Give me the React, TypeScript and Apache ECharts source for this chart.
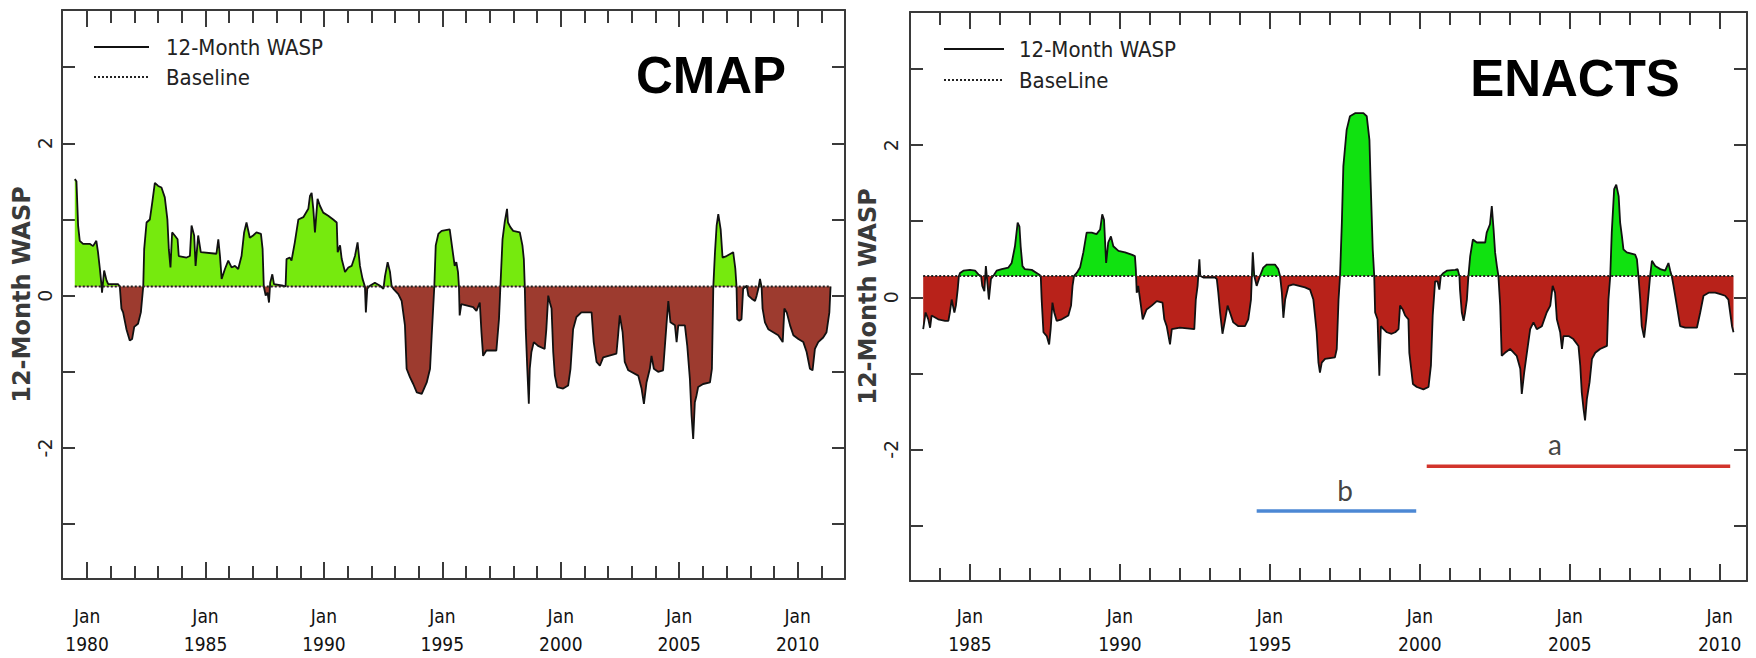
import React, { useEffect, useRef } from "react";
import * as echarts from "echarts";

// ---------------- DATA ----------------
const cmapBaseline = 0.12;
const enactsBaseline = 0.28;

const cmapSeries: [number, number][] = [
  [1979.48, 1.53], [1979.55, 1.5], [1979.62, 0.92], [1979.69, 0.72], [1979.83, 0.68], [1980.11, 0.68],
  [1980.25, 0.65], [1980.39, 0.72], [1980.46, 0.57], [1980.54, 0.35], [1980.61, 0.13], [1980.63, 0.04],
  [1980.72, 0.33], [1980.82, 0.2], [1980.89, 0.15], [1981.31, 0.15], [1981.38, 0.12], [1981.45, -0.17],
  [1981.52, -0.22], [1981.66, -0.44], [1981.8, -0.59], [1981.9, -0.57], [1981.99, -0.41], [1982.15, -0.37],
  [1982.27, -0.22], [1982.37, 0.12], [1982.41, 0.61], [1982.51, 0.96], [1982.65, 1.0], [1982.75, 1.22],
  [1982.86, 1.48], [1983.0, 1.44], [1983.14, 1.42], [1983.28, 1.29], [1983.39, 1.0], [1983.45, 0.61],
  [1983.52, 0.37], [1983.59, 0.83], [1983.7, 0.79], [1983.82, 0.74], [1983.87, 0.52], [1984.2, 0.5],
  [1984.34, 0.52], [1984.41, 0.92], [1984.52, 0.79], [1984.58, 0.39], [1984.69, 0.79], [1984.8, 0.57],
  [1985.46, 0.55], [1985.54, 0.74], [1985.61, 0.52], [1985.68, 0.22], [1985.82, 0.35], [1985.96, 0.46],
  [1986.1, 0.37], [1986.24, 0.39], [1986.38, 0.35], [1986.52, 0.52], [1986.63, 0.83], [1986.73, 0.96],
  [1986.87, 0.76], [1987.01, 0.79], [1987.15, 0.83], [1987.34, 0.81], [1987.41, 0.61], [1987.46, 0.12],
  [1987.54, 0.0], [1987.62, 0.04], [1987.68, -0.09], [1987.73, 0.17], [1987.82, 0.28], [1987.89, 0.15],
  [1988.28, 0.13], [1988.38, 0.12], [1988.42, 0.48], [1988.56, 0.5], [1988.63, 0.46], [1988.77, 0.7],
  [1988.92, 1.0], [1989.13, 1.03], [1989.34, 1.14], [1989.41, 1.31], [1989.48, 1.35], [1989.55, 1.14],
  [1989.62, 0.83], [1989.73, 1.27], [1989.83, 1.18], [1989.97, 1.09], [1990.18, 1.05], [1990.39, 1.0],
  [1990.54, 0.96], [1990.58, 0.57], [1990.68, 0.66], [1990.75, 0.48], [1990.89, 0.31], [1991.03, 0.37],
  [1991.17, 0.39], [1991.31, 0.52], [1991.42, 0.7], [1991.52, 0.39], [1991.63, 0.22], [1991.73, 0.12],
  [1991.77, -0.22], [1991.83, 0.09], [1991.94, 0.13], [1992.15, 0.17], [1992.37, 0.13], [1992.51, 0.09],
  [1992.58, 0.26], [1992.69, 0.44], [1992.79, 0.31], [1992.86, 0.12], [1992.93, 0.09], [1993.14, 0.02],
  [1993.28, -0.07], [1993.42, -0.39], [1993.49, -0.96], [1993.63, -1.07], [1993.77, -1.16], [1993.92, -1.27],
  [1994.13, -1.29], [1994.34, -1.14], [1994.48, -0.96], [1994.55, -0.52], [1994.66, 0.12], [1994.72, 0.66],
  [1994.83, 0.81], [1994.97, 0.85], [1995.31, 0.87], [1995.52, 0.39], [1995.59, 0.44], [1995.66, 0.31],
  [1995.7, 0.12], [1995.73, -0.26], [1995.8, -0.11], [1996.3, -0.15], [1996.44, -0.2], [1996.58, -0.09],
  [1996.65, -0.48], [1996.72, -0.79], [1996.86, -0.72], [1997.28, -0.72], [1997.39, -0.31], [1997.45, 0.12],
  [1997.54, 0.74], [1997.63, 0.96], [1997.73, 1.14], [1997.77, 0.96], [1997.87, 0.9], [1997.99, 0.85],
  [1998.27, 0.83], [1998.38, 0.66], [1998.44, 0.48], [1998.48, 0.12], [1998.52, -0.44], [1998.58, -0.92],
  [1998.65, -1.42], [1998.69, -0.96], [1998.76, -0.74], [1998.86, -0.61], [1999.04, -0.66], [1999.32, -0.7],
  [1999.39, -0.44], [1999.47, 0.0], [1999.54, -0.09], [1999.61, -0.17], [1999.68, -0.74], [1999.75, -1.05],
  [1999.85, -1.2], [2000.1, -1.22], [2000.31, -1.18], [2000.41, -0.96], [2000.52, -0.44], [2000.66, -0.28],
  [2000.87, -0.22], [2001.3, -0.22], [2001.39, -0.61], [2001.51, -0.87], [2001.65, -0.92], [2001.79, -0.81],
  [2002.35, -0.76], [2002.42, -0.52], [2002.49, -0.26], [2002.61, -0.48], [2002.7, -0.87], [2002.85, -0.98],
  [2003.27, -1.05], [2003.41, -1.22], [2003.51, -1.42], [2003.62, -1.14], [2003.76, -0.96], [2003.83, -0.79],
  [2003.93, -0.96], [2004.11, -1.0], [2004.32, -0.98], [2004.46, -0.39], [2004.54, -0.07], [2004.63, -0.35],
  [2004.82, -0.39], [2004.89, -0.61], [2004.96, -0.39], [2005.24, -0.39], [2005.34, -0.66], [2005.45, -1.09],
  [2005.52, -1.57], [2005.59, -1.88], [2005.66, -1.4], [2005.73, -1.31], [2005.8, -1.2], [2006.01, -1.16],
  [2006.3, -1.14], [2006.38, -0.96], [2006.44, 0.12], [2006.51, 0.57], [2006.58, 0.92], [2006.65, 1.07],
  [2006.75, 0.87], [2006.83, 0.5], [2007.0, 0.52], [2007.28, 0.57], [2007.37, 0.35], [2007.42, 0.12],
  [2007.45, -0.31], [2007.54, -0.33], [2007.63, -0.31], [2007.7, 0.09], [2007.85, 0.13], [2007.92, 0.0],
  [2008.06, -0.04], [2008.2, -0.07], [2008.27, 0.0], [2008.34, 0.09], [2008.41, 0.22], [2008.48, 0.11],
  [2008.52, -0.17], [2008.62, -0.35], [2008.76, -0.44], [2008.97, -0.48], [2009.18, -0.52], [2009.37, -0.61],
  [2009.44, -0.17], [2009.54, -0.22], [2009.68, -0.39], [2009.82, -0.52], [2010.03, -0.57], [2010.24, -0.61],
  [2010.38, -0.74], [2010.52, -0.96], [2010.63, -0.98], [2010.73, -0.7], [2010.87, -0.61], [2011.08, -0.55],
  [2011.22, -0.48], [2011.34, -0.22], [2011.39, 0.12],
];

const enactsSeries: [number, number][] = [
  [1983.44, -0.42], [1983.52, -0.2], [1983.61, -0.29], [1983.67, -0.4], [1983.72, -0.24], [1983.94, -0.29],
  [1984.17, -0.31], [1984.28, -0.31], [1984.33, -0.2], [1984.39, -0.03], [1984.48, -0.2], [1984.53, -0.11],
  [1984.59, 0.1], [1984.63, 0.28], [1984.67, 0.32], [1984.78, 0.35], [1985.0, 0.36], [1985.17, 0.35],
  [1985.28, 0.3], [1985.37, 0.28], [1985.41, 0.15], [1985.48, 0.08], [1985.53, 0.41], [1985.59, 0.15],
  [1985.63, -0.03], [1985.7, 0.24], [1985.81, 0.3], [1985.89, 0.35], [1986.06, 0.37], [1986.28, 0.39],
  [1986.39, 0.45], [1986.5, 0.67], [1986.59, 0.98], [1986.65, 0.93], [1986.69, 0.67], [1986.75, 0.41],
  [1986.83, 0.37], [1987.06, 0.36], [1987.3, 0.3], [1987.36, 0.28], [1987.39, -0.03], [1987.45, -0.46],
  [1987.56, -0.51], [1987.64, -0.62], [1987.69, -0.42], [1987.75, -0.07], [1987.81, -0.2], [1987.89, -0.31],
  [1988.06, -0.29], [1988.28, -0.24], [1988.37, -0.11], [1988.42, 0.15], [1988.47, 0.28], [1988.56, 0.32],
  [1988.67, 0.39], [1988.78, 0.59], [1988.89, 0.85], [1989.06, 0.85], [1989.22, 0.83], [1989.34, 0.89],
  [1989.41, 1.09], [1989.47, 1.02], [1989.54, 0.45], [1989.61, 0.72], [1989.7, 0.8], [1989.78, 0.67],
  [1989.95, 0.61], [1990.17, 0.59], [1990.39, 0.56], [1990.5, 0.54], [1990.53, 0.37], [1990.56, 0.06],
  [1990.61, 0.15], [1990.7, -0.11], [1990.76, -0.29], [1990.89, -0.16], [1991.06, -0.11], [1991.23, -0.05],
  [1991.42, -0.07], [1991.48, -0.29], [1991.56, -0.38], [1991.67, -0.62], [1991.73, -0.42], [1992.0, -0.4],
  [1992.48, -0.42], [1992.53, -0.03], [1992.59, 0.15], [1992.65, 0.5], [1992.68, 0.28], [1992.78, 0.26],
  [1993.17, 0.26], [1993.23, 0.24], [1993.28, 0.06], [1993.34, -0.2], [1993.42, -0.48], [1993.51, -0.29],
  [1993.59, -0.11], [1993.67, -0.2], [1993.78, -0.33], [1993.95, -0.38], [1994.17, -0.38], [1994.28, -0.29],
  [1994.37, -0.03], [1994.43, 0.59], [1994.48, 0.28], [1994.56, 0.15], [1994.67, 0.28], [1994.78, 0.39],
  [1994.9, 0.43], [1995.17, 0.43], [1995.28, 0.37], [1995.34, 0.28], [1995.4, 0.06], [1995.45, -0.27],
  [1995.51, -0.03], [1995.62, 0.15], [1995.78, 0.17], [1996.17, 0.13], [1996.34, 0.1], [1996.45, -0.03],
  [1996.56, -0.46], [1996.62, -0.86], [1996.67, -0.99], [1996.73, -0.86], [1996.84, -0.81], [1997.17, -0.79],
  [1997.23, -0.68], [1997.29, -0.03], [1997.34, 0.28], [1997.4, 0.98], [1997.45, 1.72], [1997.56, 2.2],
  [1997.67, 2.38], [1997.84, 2.42], [1998.12, 2.42], [1998.23, 2.38], [1998.32, 2.07], [1998.36, 1.51],
  [1998.43, 0.63], [1998.48, 0.28], [1998.51, -0.2], [1998.59, -0.29], [1998.65, -1.03], [1998.7, -0.38],
  [1998.79, -0.42], [1998.9, -0.46], [1999.06, -0.48], [1999.18, -0.46], [1999.29, -0.42], [1999.34, -0.11],
  [1999.43, -0.16], [1999.51, -0.24], [1999.62, -0.29], [1999.65, -0.73], [1999.77, -1.14], [1999.9, -1.18],
  [2000.12, -1.21], [2000.29, -1.18], [2000.37, -0.9], [2000.43, -0.24], [2000.51, 0.21], [2000.59, 0.21],
  [2000.65, 0.1], [2000.7, 0.28], [2000.79, 0.32], [2000.9, 0.35], [2001.18, 0.36], [2001.26, 0.37],
  [2001.32, 0.28], [2001.34, 0.1], [2001.4, -0.2], [2001.46, -0.31], [2001.51, -0.2], [2001.57, -0.03],
  [2001.62, 0.28], [2001.68, 0.54], [2001.77, 0.76], [2001.9, 0.72], [2002.18, 0.72], [2002.23, 0.85],
  [2002.34, 0.96], [2002.4, 1.2], [2002.46, 0.89], [2002.51, 0.59], [2002.57, 0.41], [2002.62, 0.28],
  [2002.68, -0.11], [2002.73, -0.77], [2002.84, -0.73], [2003.01, -0.68], [2003.23, -0.77], [2003.35, -0.94],
  [2003.4, -1.27], [2003.48, -0.99], [2003.57, -0.73], [2003.68, -0.42], [2003.79, -0.33], [2003.9, -0.42],
  [2004.07, -0.38], [2004.23, -0.2], [2004.35, -0.11], [2004.43, 0.15], [2004.51, 0.06], [2004.57, -0.29],
  [2004.68, -0.46], [2004.74, -0.68], [2004.79, -0.51], [2004.96, -0.51], [2005.12, -0.55], [2005.29, -0.64],
  [2005.35, -0.9], [2005.4, -1.25], [2005.46, -1.47], [2005.51, -1.62], [2005.57, -1.34], [2005.66, -1.12],
  [2005.74, -0.81], [2005.85, -0.73], [2006.01, -0.68], [2006.24, -0.64], [2006.29, -0.03], [2006.35, 0.28],
  [2006.4, 0.85], [2006.48, 1.42], [2006.55, 1.48], [2006.63, 1.33], [2006.68, 0.98], [2006.74, 0.8],
  [2006.79, 0.63], [2006.9, 0.59], [2007.18, 0.56], [2007.24, 0.5], [2007.29, 0.28], [2007.35, -0.03],
  [2007.4, -0.38], [2007.48, -0.53], [2007.55, -0.29], [2007.63, 0.06], [2007.68, 0.28], [2007.74, 0.48],
  [2007.85, 0.41], [2008.02, 0.37], [2008.18, 0.35], [2008.29, 0.45], [2008.35, 0.35], [2008.4, 0.28],
  [2008.46, 0.15], [2008.57, -0.11], [2008.68, -0.38], [2008.85, -0.4], [2009.24, -0.4], [2009.35, -0.2],
  [2009.46, 0.02], [2009.63, 0.06], [2009.85, 0.06], [2010.02, 0.04], [2010.18, 0.02], [2010.29, -0.03],
  [2010.41, -0.38], [2010.46, -0.46],
];

// period bars on ENACTS panel: [startYear, endYear, value]
const periodA: [number, number, number] = [2000.23, 2010.35, -2.22];
const periodB: [number, number, number] = [1994.56, 1999.88, -2.81];
const periodLabels: [number, number, string][] = [
  [2004.51, -1.93, "a"],
  [1997.51, -2.54, "b"],
];

const cmapMinorTicks = [1980, 1981, 1982, 1983, 1984, 1985, 1986, 1987, 1988, 1989, 1990, 1991, 1992, 1993, 1994,
  1995, 1996, 1997, 1998, 1999, 2000, 2001, 2002, 2003, 2004, 2005, 2006, 2007, 2008, 2009, 2010, 2011];
const cmapMajorTicks = [1980, 1985, 1990, 1995, 2000, 2005, 2010];
const enactsMinorTicks = [1984, 1985, 1986, 1987, 1988, 1989, 1990, 1991, 1992, 1993, 1994, 1995, 1996, 1997,
  1998, 1999, 2000, 2001, 2002, 2003, 2004, 2005, 2006, 2007, 2008, 2009, 2010];
const enactsMajorTicks = [1985, 1990, 1995, 2000, 2005, 2010];
const yTicks = [-3, -2, -1, 0, 1, 2, 3];
const yLabels = [-2, 0, 2];

// ---------------- STYLE ----------------
const NARROW = "'Liberation Sans Narrow', 'Arial Narrow', 'DejaVu Sans Condensed', 'Liberation Sans', Arial, sans-serif";
const WIDE = "'DejaVu Sans', Verdana, sans-serif";
const AXIS_COLOR = "#3a3a3a";

const panels = [
  {
    grid: { left: 62, top: 10, width: 783, height: 570 },
    xMin: 1978.94, xMax: 2012.0, yMin: -3.72, yMax: 3.75,
    data: cmapSeries, baseline: cmapBaseline,
    green: "#76EA0E", red: "#9D3B2F",
    minor: cmapMinorTicks, major: cmapMajorTicks,
    baselineName: "Baseline", nameGap: 14, labelMargin: 23, yLabelMargin: 8,
    legend: { left: 93, top: 36, itemWidth: 55, pad: 12, gap: 8 },
    title: { text: "CMAP", x: 711, y: 75 },
  },
  {
    grid: { left: 910, top: 12, width: 837, height: 571 },
    xMin: 1983.0, xMax: 2010.91, yMin: -3.73, yMax: 3.75,
    data: enactsSeries, baseline: enactsBaseline,
    green: "#10E210", red: "#B8221A",
    minor: enactsMinorTicks, major: enactsMajorTicks,
    baselineName: "BaseLine", nameGap: 22, labelMargin: 21, yLabelMargin: 10,
    legend: { left: 943, top: 38, itemWidth: 60, pad: 10, gap: 9 },
    title: { text: "ENACTS", x: 1575, y: 78 },
  },
];

export default function App() {
  const ref = useRef<HTMLDivElement>(null);

  useEffect(() => {
    if (!ref.current) return;
    const chart = echarts.init(ref.current, undefined, { renderer: "svg" });

    const xAxis: any[] = [];
    const yAxis: any[] = [];
    const series: any[] = [];
    const visualMap: any[] = [];
    const legend: any[] = [];
    const graphic: any[] = [];

    panels.forEach((p, pi) => {
      const common = {
        gridIndex: pi, type: "value", min: p.xMin, max: p.xMax,
        splitLine: { show: false },
      };
      const tickLine = { color: AXIS_COLOR, width: 2 };
      xAxis.push({
        ...common, position: "bottom",
        axisLine: { show: true, onZero: false, lineStyle: { color: AXIS_COLOR, width: 2 } },
        axisTick: { show: true, inside: true, length: 17, customValues: p.major, lineStyle: tickLine },
        axisLabel: {
          show: true, customValues: p.major, margin: p.labelMargin,
          formatter: (v: number) => "Jan\n" + v,
          fontFamily: NARROW, fontSize: 19, lineHeight: 28, color: "#111",
        },
      });
      xAxis.push({
        ...common, position: "bottom",
        axisLine: { show: false, onZero: false },
        axisTick: { show: true, inside: true, length: 13, customValues: p.minor, lineStyle: tickLine },
        axisLabel: { show: false },
      });
      xAxis.push({
        ...common, position: "top",
        axisLine: { show: true, onZero: false, lineStyle: { color: AXIS_COLOR, width: 2 } },
        axisTick: { show: true, inside: true, length: 17, customValues: p.major, lineStyle: tickLine },
        axisLabel: { show: false },
      });
      xAxis.push({
        ...common, position: "top",
        axisLine: { show: false, onZero: false },
        axisTick: { show: true, inside: true, length: 13, customValues: p.minor, lineStyle: tickLine },
        axisLabel: { show: false },
      });

      yAxis.push({
        gridIndex: pi, type: "value", min: p.yMin, max: p.yMax, position: "left",
        splitLine: { show: false },
        axisLine: { show: true, onZero: false, lineStyle: { color: AXIS_COLOR, width: 2 } },
        axisTick: { show: true, inside: true, length: 13, customValues: yTicks, lineStyle: tickLine },
        axisLabel: {
          show: true, customValues: yLabels, rotate: 90, margin: p.yLabelMargin,
          fontFamily: WIDE, fontSize: 19, color: "#222",
        },
        name: "12-Month WASP", nameLocation: "middle", nameRotate: 90, nameGap: p.nameGap,
        nameTextStyle: { fontFamily: WIDE, fontSize: 24, fontWeight: "bold", color: "#3a3a3a" },
      });
      yAxis.push({
        gridIndex: pi, type: "value", min: p.yMin, max: p.yMax, position: "right",
        splitLine: { show: false },
        axisLine: { show: true, onZero: false, lineStyle: { color: AXIS_COLOR, width: 2 } },
        axisTick: { show: true, inside: true, length: 13, customValues: yTicks, lineStyle: tickLine },
        axisLabel: { show: false },
      });

      const xi = pi * 4;
      const yi = pi * 2;
      const mainIndex = series.length;
      series.push({
        type: "line", name: "12-Month WASP", xAxisIndex: xi, yAxisIndex: yi,
        data: p.data, symbol: "none", showSymbol: false, z: 3,
        lineStyle: { color: "#111", width: 1.8 },
        itemStyle: { color: "#111" },
        areaStyle: { origin: p.baseline, opacity: 1 },
      });
      series.push({
        type: "line", name: p.baselineName, xAxisIndex: xi, yAxisIndex: yi,
        data: [[p.data[0][0], p.baseline], [p.data[p.data.length - 1][0], p.baseline]],
        symbol: "none", showSymbol: false, z: 4,
        lineStyle: { color: "#222", width: 2, type: "dotted" },
        itemStyle: { color: "#222" },
      });
      visualMap.push({
        type: "piecewise", show: false, seriesIndex: mainIndex, dimension: 1,
        pieces: [
          { min: -10, max: p.baseline, color: p.red },
          { min: p.baseline, max: 10, color: p.green },
        ],
      });
      legend.push({
        orient: "vertical", left: p.legend.left, top: p.legend.top, padding: 0,
        itemWidth: p.legend.itemWidth, itemHeight: 14, itemGap: p.legend.gap,
        data: ["12-Month WASP", p.baselineName],
        selectedMode: false,
        itemStyle: { opacity: 0 },
        textStyle: { fontFamily: NARROW, fontSize: 22, color: "#222", padding: [0, 0, 0, p.legend.pad] },
      });
      graphic.push({
        type: "text", x: p.title.x, y: p.title.y, z: 10,
        style: {
          text: p.title.text, fill: "#000", fontSize: 51, fontWeight: "bold",
          fontFamily: "'Liberation Sans', Arial, sans-serif", align: "center", verticalAlign: "middle",
        },
      });
    });

    series.push({
      type: "line", name: "a", xAxisIndex: 4, yAxisIndex: 2, symbol: "none", z: 5,
      data: [[periodA[0], periodA[2]], [periodA[1], periodA[2]]],
      lineStyle: { color: "#D2342C", width: 3.5 },
    });
    series.push({
      type: "line", name: "b", xAxisIndex: 4, yAxisIndex: 2, symbol: "none", z: 5,
      data: [[periodB[0], periodB[2]], [periodB[1], periodB[2]]],
      lineStyle: { color: "#4C88D4", width: 3.5 },
    });
    series.push({
      type: "scatter", name: "period labels", xAxisIndex: 4, yAxisIndex: 2, symbolSize: 1, z: 6,
      itemStyle: { color: "rgba(0,0,0,0)" },
      data: periodLabels.map((d) => ({ value: [d[0], d[1]], label: { formatter: d[2] } })),
      label: {
        show: true, position: "inside", color: "#111", fontSize: 28,
        fontFamily: "Lato, 'Open Sans', sans-serif",
      },
    });

    chart.setOption({
      animation: false,
      backgroundColor: "#fff",
      textStyle: { fontFamily: NARROW },
      grid: panels.map((p) => ({ ...p.grid, containLabel: false })),
      xAxis, yAxis, series, visualMap, legend, graphic,
    });

    return () => chart.dispose();
  }, []);

  return (
    <div
      ref={ref}
      style={{ position: "fixed", left: 0, top: 0, width: 1756, height: 658, background: "#fff" }}
    />
  );
}
